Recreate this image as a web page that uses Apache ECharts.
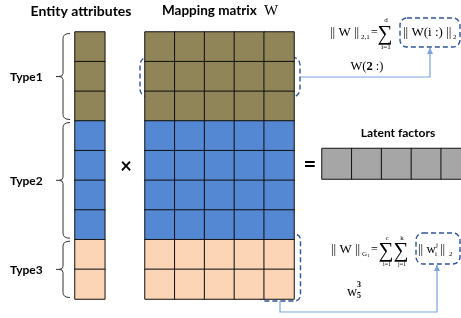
<!DOCTYPE html>
<html>
<head>
<meta charset="utf-8">
<script src="https://cdn.jsdelivr.net/npm/echarts@6/dist/echarts.min.js"></script>
<style>
  html, body { margin: 0; padding: 0; background: #fff; }
  #main { width: 461px; height: 318px; }
</style>
</head>
<body>
<div id="main"></div>
<script>
// entity types and how many attribute rows each one has
const entityTypes = ['Type1', 'Type2', 'Type3'];
const typeRowCounts = [3, 4, 2];
// columns of the mapping matrix W and the latent factors
const mappingColumns = ['k1', 'k2', 'k3', 'k4', 'k5'];
const latentFactors = ['f1', 'f2', 'f3', 'f4', 'f5'];

const typeColors = ['#8f8558', '#5588d3', '#fbd5b5'];
const latentColor = '#a6a6a6';
const dashColor = '#2f5597';
const linkColor = '#7aa3d8';

// one row per attribute, tagged with its type index
const rowTypes = [];
typeRowCounts.forEach((n, t) => { for (let i = 0; i < n; i++) rowTypes.push(t); });
const rowNames = rowTypes.map((t, i) => 'r' + i);

const entityData = rowTypes.map((t, i) => [0, i, t]);
const mappingData = [];
rowTypes.forEach((t, i) => {
  mappingColumns.forEach((c, j) => mappingData.push([j, i, t]));
});
const latentData = latentFactors.map((f, j) => [j, 0, 3]);

// layout
const gridTop = 32, rowH = 29.67, cellW = 29.8;
const entityLeft = 75, mapLeft = 145, latentLeft = 322, latentTop = 148.5;

const chart = echarts.init(document.getElementById('main'));

function hiddenAxis(data, inverse) {
  return { type: 'category', data: data, show: false, inverse: !!inverse };
}

const graphics = [];
const sans = '"Lato", "Liberation Sans", sans-serif';
const serif = '"Liberation Serif", "DejaVu Serif", serif';
const braceStyle = { fill: null, stroke: '#333', lineWidth: 1 };

function txt(x, y, text, font, align, fill) {
  graphics.push({
    type: 'text', x: x, y: y, silent: true,
    style: { text: text, font: font, fill: fill || '#000', textAlign: align || 'left', textVerticalAlign: 'middle' }
  });
}
function curve(x1, y1, cx, cy, x2, y2) {
  graphics.push({ type: 'bezierCurve', silent: true,
    shape: { x1: x1, y1: y1, cpx1: cx, cpy1: cy, x2: x2, y2: y2 }, style: braceStyle });
}
function seg(x1, y1, x2, y2) {
  graphics.push({ type: 'line', silent: true,
    shape: { x1: x1, y1: y1, x2: x2, y2: y2 }, style: braceStyle });
}
function brace(y0, y1) {
  const xr = 70, xm = 63, xt = 56, ym = (y0 + y1) / 2;
  curve(xr, y0, xm, y0, xm, y0 + 5);
  seg(xm, y0 + 5, xm, ym - 3);
  curve(xm, ym - 3, xm, ym, xt + 3, ym);
  seg(xt + 3, ym, xt, ym);
  curve(xt + 3, ym, xm, ym, xm, ym + 3);
  seg(xm, ym + 3, xm, y1 - 5);
  curve(xm, y1 - 5, xm, y1, xr, y1);
}

// braces and type labels
let start = 0;
typeRowCounts.forEach((n, t) => {
  const y0 = gridTop + start * rowH + 1.5, y1 = gridTop + (start + n) * rowH - 1.5;
  brace(y0, y1);
  txt(10, (y0 + y1) / 2 + 1, entityTypes[t], 'bold 12px ' + sans);
  start += n;
});

// titles
txt(81, 11, 'Entity attributes', 'bold 14px ' + sans, 'center');
txt(162, 11, 'Mapping matrix', 'bold 13.5px ' + sans);
txt(264, 11, 'W', '15px ' + serif);
txt(398, 133, 'Latent factors', 'bold 12px ' + sans, 'center');
txt(126, 167, '\u00d7', 'bold 20px ' + sans, 'center');
txt(310, 165, '=', 'bold 22px ' + sans, 'center');

// dashed selections and connectors
function dashed(x, y, w, h, r) {
  graphics.push({ type: 'rect', silent: true, shape: { x: x, y: y, width: w, height: h, r: r },
    style: { fill: null, stroke: dashColor, lineWidth: 1.4, lineDash: [5, 3] } });
}
function link(points) {
  graphics.push({ type: 'polyline', silent: true, shape: { points: points },
    style: { fill: null, stroke: linkColor, lineWidth: 1.2 } });
  const p = points[points.length - 1];
  graphics.push({ type: 'polygon', silent: true,
    shape: { points: [[p[0], p[1]], [p[0] - 3, p[1] + 6], [p[0] + 3, p[1] + 6]] },
    style: { fill: linkColor } });
}
dashed(140, 57, 160, 40, 8);
link([[300, 77], [430, 77], [430, 48]]);
dashed(400, 18, 60, 29, 7);

dashed(259, 234, 41.5, 67, 6);
link([[280, 301], [280, 312], [437, 312], [437, 265]]);
dashed(416, 233, 44, 31, 7);

// formula 1
txt(330, 33, '|| W ||', '13px ' + serif);
txt(361, 37, '2,1', '7px ' + serif);
txt(371, 33, '=', '12px ' + serif);
txt(385, 34, '\u2211', '21px ' + serif, 'center');
txt(386, 20, 'd', '7px ' + serif, 'center');
txt(386, 47, 'i=1', '7px ' + serif, 'center');
txt(403, 33, '|| W(i :) ||', '13px ' + serif);
txt(453, 37, '2', '7px ' + serif);
graphics.push({
  type: 'text', x: 367, y: 67, silent: true,
  style: { text: '{a|W(}{b|2}{a| :)}', textAlign: 'center', textVerticalAlign: 'middle',
    rich: { a: { font: '12.5px ' + serif }, b: { font: 'bold 12.5px ' + serif } } }
});

// formula 2
txt(331, 250, '|| W ||', '13px ' + serif);
txt(362, 254, 'G', '7px ' + serif);
txt(367, 256, '1', '5px ' + serif);
txt(371, 250, '=', '12px ' + serif);
txt(386, 251, '\u2211', '21px ' + serif, 'center');
txt(401, 251, '\u2211', '21px ' + serif, 'center');
txt(387, 238, 'c', '7px ' + serif, 'center');
txt(402, 238, 'k', '7px ' + serif, 'center');
txt(387, 264, 'i=1', '6px ' + serif, 'center');
txt(402, 264, 'j=1', '6px ' + serif, 'center');
txt(418, 250, '|| w', '13px ' + serif);
txt(436, 245, 'j', '7px ' + serif);
txt(435, 254, 'i', '7px ' + serif);
txt(440, 250, '||', '13px ' + serif);
txt(449, 254, '2', '7px ' + serif);
txt(347, 292, 'w', '14px ' + serif);
txt(357, 285, '3', 'bold 8px ' + serif);
txt(357, 296, '5', 'bold 8px ' + serif);

const cellStyle = { borderColor: '#111', borderWidth: 1 };

const option = {
  animation: false,
  grid: [
    { left: entityLeft, top: gridTop, width: cellW, height: rowH * rowNames.length, outerBoundsMode: 'none' },
    { left: mapLeft, top: gridTop, width: cellW * mappingColumns.length, height: rowH * rowNames.length, outerBoundsMode: 'none' },
    { left: latentLeft, top: latentTop, width: cellW * latentFactors.length, height: 30.5, outerBoundsMode: 'none' }
  ],
  xAxis: [
    Object.assign(hiddenAxis(['a']), { gridIndex: 0 }),
    Object.assign(hiddenAxis(mappingColumns), { gridIndex: 1 }),
    Object.assign(hiddenAxis(latentFactors), { gridIndex: 2 })
  ],
  yAxis: [
    Object.assign(hiddenAxis(rowNames, true), { gridIndex: 0 }),
    Object.assign(hiddenAxis(rowNames, true), { gridIndex: 1 }),
    Object.assign(hiddenAxis(['z']), { gridIndex: 2 })
  ],
  visualMap: {
    type: 'piecewise', show: false, dimension: 2, seriesIndex: [0, 1, 2],
    pieces: [
      { value: 0, color: typeColors[0] },
      { value: 1, color: typeColors[1] },
      { value: 2, color: typeColors[2] },
      { value: 3, color: latentColor }
    ]
  },
  series: [
    { type: 'heatmap', xAxisIndex: 0, yAxisIndex: 0, data: entityData, itemStyle: cellStyle, emphasis: { disabled: true } },
    { type: 'heatmap', xAxisIndex: 1, yAxisIndex: 1, data: mappingData, itemStyle: cellStyle, emphasis: { disabled: true } },
    { type: 'heatmap', xAxisIndex: 2, yAxisIndex: 2, data: latentData, itemStyle: cellStyle, emphasis: { disabled: true } }
  ],
  graphic: graphics
};
chart.setOption(option);
</script>
</body>
</html>
